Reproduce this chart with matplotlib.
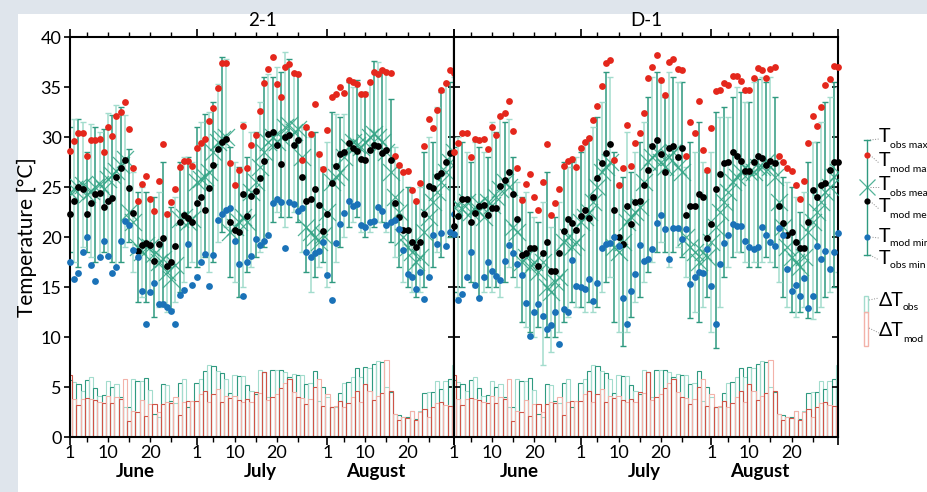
import matplotlib
matplotlib.use('Agg')
import matplotlib.pyplot as plt
import matplotlib.transforms as mtransforms
from matplotlib.lines import Line2D
from matplotlib.patches import Rectangle
import numpy as np

plt.rcParams['font.family'] = ['Lato', 'DejaVu Sans']

# ---------------- data (1 June .. 31 August) ----------------
# panel "2-1"
obs_max_1 = [31.0, 31.8, 31.8, 31.5, 28.5, 31.3, 31.0, 30.5, 30.8, 32.4, 32.2, 33.2, 33.0, 32.2, 28.8,
             26.5, 24.5, 25.0, 24.5, 23.8, 24.0, 24.5, 27.5, 22.5, 23.0, 24.0, 27.5, 28.0, 28.0, 27.5,
             31.0, 31.5, 32.3, 32.5, 33.5, 35.3, 38.0, 37.8, 29.0, 27.5, 27.0, 31.5, 28.0, 30.5, 30.5,
             33.5, 36.0, 36.3, 36.0, 37.0, 36.5, 38.5, 37.8, 36.5, 36.3, 31.0, 30.8, 30.0, 30.5, 28.5, 27.0,
             29.5, 32.5, 32.3, 32.0, 32.3, 35.5, 35.0, 35.7, 34.3, 34.5, 35.5, 37.6, 37.5, 36.8, 36.5,
             33.8, 29.0, 27.0, 26.5, 25.0, 24.5, 23.5, 25.0, 28.5, 30.0, 29.5, 33.0, 34.5, 35.3, 35.5, 36.0]
obs_mean_1 = [24.5, 24.8, 25.0, 25.2, 24.3, 24.6, 25.0, 25.3, 24.8, 25.8, 26.2, 26.6, 27.2, 27.8, 22.5,
              21.5, 19.0, 18.5, 19.2, 19.0, 18.3, 17.5, 17.8, 16.5, 15.8, 17.2, 21.8, 22.0, 21.5, 21.8,
              25.5, 25.8, 26.0, 26.5, 28.5, 29.5, 29.8, 30.0, 20.5, 21.0, 21.5, 22.0, 21.5, 24.5, 25.5,
              27.0, 28.5, 29.5, 30.0, 29.5, 30.0, 31.0, 31.2, 30.5, 30.8, 28.0, 21.0, 20.5, 20.0, 19.5, 20.2,
              22.5, 25.5, 26.0, 26.5, 28.0, 29.0, 29.5, 29.2, 29.0, 29.5, 30.0, 30.3, 30.0, 29.5, 28.5,
              26.5, 24.0, 22.5, 20.0, 19.0, 18.5, 17.5, 18.0, 20.5, 22.0, 23.5, 24.5, 25.5, 26.5, 27.5, 28.5]
obs_min_1 = [18.5, 17.5, 17.0, 19.0, 18.5, 18.0, 17.5, 18.0, 18.5, 18.0, 17.5, 17.0, 17.5, 19.0, 19.5,
             16.5, 13.5, 14.0, 13.5, 14.5, 12.0, 13.0, 13.5, 12.5, 12.8, 13.5, 14.5, 15.5, 17.0, 17.5,
             17.0, 17.5, 18.0, 16.5, 17.5, 19.5, 20.5, 21.0, 16.0, 15.5, 14.0, 15.0, 16.5, 17.0, 18.0,
             18.5, 19.0, 20.0, 21.5, 22.5, 22.0, 21.0, 22.0, 22.5, 21.5, 18.5, 16.5, 14.5, 16.0, 17.0, 17.5,
             15.0, 15.5, 17.5, 19.0, 20.0, 21.0, 21.5, 22.0, 20.5, 20.0, 20.5, 21.0, 21.5, 21.5, 20.5,
             19.5, 18.0, 17.0, 15.5, 15.0, 14.5, 14.0, 14.5, 15.0, 16.0, 17.0, 18.5, 18.0, 19.0, 20.0, 20.5]
mod_max_1 = [28.6, 29.6, 30.4, 30.4, 28.1, 29.7, 29.7, 29.8, 28.5, 31.0, 30.1, 32.1, 32.5, 33.5, 30.8,
             26.9, 23.6, 25.3, 26.1, 23.8, 22.6, 25.6, 29.3, 22.3, 23.5, 24.8, 27.0, 27.6, 27.6, 27.1,
             28.9, 29.4, 29.8, 31.6, 32.9, 34.9, 37.4, 37.4, 27.4, 25.2, 26.7, 31.1, 26.9, 29.2, 30.2,
             32.6, 35.4, 36.8, 38.0, 35.3, 34.0, 37.0, 37.3, 36.4, 36.3, 27.7, 31.0, 30.3, 33.3, 28.3, 26.8,
             30.7, 34.0, 34.3, 35.0, 34.4, 35.7, 35.5, 35.3, 34.3, 34.3, 35.5, 36.5, 36.3, 36.7, 36.5,
             36.4, 28.1, 27.2, 26.5, 26.6, 24.7, 23.6, 25.4, 29.1, 31.8, 30.9, 32.7, 34.7, 35.4, 36.7, 36.4]
mod_mean_1 = [22.3, 23.6, 25.0, 24.8, 22.3, 23.4, 24.3, 24.4, 23.0, 23.6, 23.9, 26.0, 26.9, 27.7, 24.9,
              22.4, 18.6, 19.2, 19.4, 19.2, 17.6, 19.3, 19.9, 17.1, 17.5, 19.1, 21.5, 22.2, 21.9, 21.5,
              23.4, 24.0, 22.7, 24.9, 27.2, 28.8, 29.5, 29.8, 21.5, 20.7, 20.5, 24.3, 22.1, 24.1, 24.6,
              25.9, 27.6, 30.3, 30.5, 29.2, 27.3, 30.0, 30.2, 29.2, 29.7, 26.0, 23.6, 23.8, 24.8, 23.2, 20.6,
              22.3, 25.4, 27.1, 28.3, 28.5, 29.4, 28.9, 28.6, 27.8, 27.7, 28.7, 29.2, 29.1, 28.4, 28.7,
              27.7, 23.4, 22.0, 20.7, 20.7, 19.5, 19.0, 19.5, 22.3, 25.1, 24.9, 26.1, 26.4, 27.5, 28.4, 28.4]
mod_min_1 = [17.5, 15.8, 16.4, 18.5, 20.0, 17.2, 15.6, 18.0, 19.6, 18.1, 16.4, 17.0, 19.6, 21.6, 21.2,
             18.7, 18.0, 14.6, 11.3, 14.5, 15.4, 13.3, 13.3, 13.0, 12.6, 11.3, 14.2, 14.7, 19.3, 15.2,
             16.0, 17.5, 18.3, 15.1, 18.2, 21.7, 22.3, 22.7, 22.9, 19.6, 17.3, 14.1, 17.5, 18.1, 19.8,
             19.2, 19.6, 20.2, 23.4, 23.8, 23.5, 18.9, 23.5, 23.3, 22.6, 22.9, 18.5, 18.0, 18.4, 18.6, 19.5,
             16.2, 13.7, 19.4, 21.3, 22.4, 23.6, 23.1, 23.3, 21.2, 21.0, 21.5, 21.6, 23.0, 22.6, 21.2,
             21.5, 21.7, 20.8, 18.7, 16.3, 16.0, 14.8, 16.5, 13.8, 16.0, 20.2, 19.3, 20.4, 19.1, 20.5, 22.3]

# panel "D-1"
obs_max_2 = [29.0, 30.0, 29.5, 28.5, 27.5, 29.5, 29.0, 28.5, 28.0, 31.5, 30.5, 32.0, 31.5, 31.8, 28.0,
             25.5, 24.0, 24.5, 22.5, 22.0, 21.5, 23.5, 26.5, 21.0, 22.0, 23.5, 27.5, 27.0, 27.5, 28.0,
             28.5, 29.5, 30.0, 31.0, 32.0, 33.5, 36.5, 36.0, 28.5, 25.0, 26.0, 30.5, 26.5, 28.5, 29.5,
             31.5, 34.0, 36.0, 36.5, 35.5, 34.0, 36.5, 36.0, 35.5, 35.5, 27.0, 29.5, 28.5, 31.5, 27.5, 26.5,
             28.5, 32.5, 32.0, 33.0, 32.0, 34.0, 35.0, 34.5, 33.5, 33.5, 35.5, 35.8, 36.0, 35.5, 36.0,
             34.0, 27.5, 26.0, 25.5, 25.0, 24.0, 22.5, 24.5, 27.5, 29.5, 29.5, 31.5, 33.5, 34.0, 35.5, 35.0]
obs_mean_2 = [23.0, 23.2, 22.8, 23.5, 22.5, 23.0, 23.3, 22.0, 23.5, 23.2, 24.0, 24.8, 25.5, 25.0, 21.0,
              20.5, 17.5, 18.0, 17.0, 17.5, 16.5, 17.5, 15.0, 14.5, 15.5, 16.0, 19.5, 20.0, 19.0, 19.5,
              21.5, 22.0, 22.5, 23.5, 25.0, 26.5, 27.0, 27.5, 19.0, 18.5, 19.5, 21.5, 22.0, 22.5, 23.0,
              25.5, 27.5, 28.0, 28.5, 27.5, 27.0, 28.0, 28.5, 27.0, 26.5, 20.0, 19.0, 18.5, 17.5, 18.5, 18.0,
              19.5, 21.0, 22.5, 23.5, 24.5, 25.5, 26.0, 26.5, 27.0, 26.5, 26.5, 27.0, 27.0, 27.5, 27.0,
              26.0, 23.5, 21.0, 19.0, 18.0, 17.5, 17.0, 18.0, 20.5, 21.5, 22.5, 23.5, 24.5, 25.0, 26.0, 26.5]
obs_min_2 = [14.5, 14.0, 15.0, 16.0, 15.5, 15.0, 14.0, 14.5, 15.0, 14.5, 15.0, 14.0, 15.5, 17.0, 16.0,
             15.0, 11.5, 11.0, 10.5, 10.0, 11.0, 7.2, 10.0, 8.5, 10.0, 10.5, 11.5, 12.0, 13.5, 13.0,
             13.0, 12.5, 13.5, 12.5, 13.0, 14.5, 15.5, 16.0, 11.5, 10.5, 9.1, 10.5, 12.0, 13.5, 14.0,
             15.5, 16.5, 17.5, 18.5, 19.5, 18.5, 17.0, 18.5, 19.0, 18.0, 16.0, 11.9, 12.5, 11.5, 13.0, 14.0,
             10.5, 8.9, 13.0, 16.0, 17.0, 18.0, 18.5, 18.5, 17.5, 17.0, 17.5, 17.0, 17.5, 18.0, 17.5,
             17.0, 15.5, 14.0, 13.0, 12.5, 12.0, 12.5, 13.0, 11.9, 11.8, 12.5, 13.0, 14.0, 14.5, 15.0, 16.5]
mod_max_2 = [28.5, 29.4, 30.4, 30.4, 28.0, 29.8, 29.7, 29.8, 28.8, 31.0, 30.2, 32.1, 32.4, 33.6, 30.6,
             26.9, 23.7, 25.3, 26.3, 24.0, 22.7, 25.5, 29.3, 22.2, 23.4, 24.8, 27.1, 27.6, 27.8, 27.0,
             28.9, 29.5, 29.9, 31.7, 33.1, 35.1, 37.4, 37.7, 27.7, 25.2, 26.9, 31.2, 27.1, 29.4, 30.4,
             32.4, 35.9, 37.0, 38.2, 35.7, 34.2, 37.5, 37.8, 36.8, 36.7, 28.1, 31.5, 30.4, 33.6, 28.7, 26.7,
             30.9, 34.6, 34.7, 35.4, 35.2, 36.1, 36.1, 35.6, 34.7, 34.7, 35.9, 36.9, 36.7, 35.9, 36.8,
             37.0, 28.1, 27.5, 26.9, 26.6, 25.2, 23.8, 25.6, 29.4, 32.1, 31.1, 33.0, 35.2, 35.8, 37.1, 37.0]
mod_mean_2 = [21.1, 22.1, 23.8, 23.8, 21.5, 22.4, 23.1, 23.2, 22.2, 22.9, 22.9, 25.1, 25.7, 26.5, 24.3,
              21.8, 18.2, 18.4, 18.9, 18.9, 17.1, 18.4, 19.5, 16.6, 16.6, 18.4, 20.6, 21.8, 21.4, 20.7,
              22.1, 22.7, 21.9, 24.0, 25.9, 27.4, 28.4, 29.3, 22.7, 20.0, 19.3, 23.1, 21.3, 23.5, 23.6,
              25.2, 26.7, 29.1, 29.7, 28.3, 26.5, 28.9, 29.1, 28.0, 28.9, 22.2, 23.1, 23.1, 24.3, 24.0, 19.9,
              21.3, 24.8, 26.3, 27.4, 27.5, 28.5, 28.1, 27.6, 26.6, 26.6, 27.5, 28.1, 27.9, 27.2, 27.6,
              27.4, 23.1, 21.4, 20.2, 20.5, 19.5, 18.9, 18.9, 21.5, 24.7, 24.0, 25.2, 25.4, 26.7, 27.5, 27.5]
mod_min_2 = [20.3, 13.7, 14.3, 16.0, 18.5, 15.2, 13.9, 16.0, 17.5, 16.6, 16.1, 15.7, 17.6, 19.2, 18.4,
             17.3, 16.2, 13.4, 10.1, 12.5, 13.3, 12.1, 10.8, 11.2, 12.5, 9.3, 12.8, 12.5, 17.7, 15.1,
             15.0, 14.8, 15.8, 13.6, 15.4, 18.9, 19.3, 19.4, 20.0, 19.1, 13.9, 11.3, 14.6, 16.3, 19.2,
             17.6, 17.8, 18.8, 21.4, 22.2, 20.8, 17.8, 20.9, 20.9, 19.8, 20.8, 15.3, 16.0, 16.5, 16.4, 18.8,
             15.1, 11.3, 17.3, 19.4, 20.2, 21.3, 21.1, 21.1, 19.6, 19.0, 18.8, 19.0, 21.0, 20.2, 19.5,
             19.1, 20.9, 20.2, 16.8, 14.6, 15.2, 14.1, 15.9, 12.9, 14.1, 19.1, 17.8, 18.6, 16.8, 18.5, 20.4]

# daily range bars (same in both panels)
dT_obs = [5.7, 5.5, 5.3, 4.6, 5.7, 6.0, 4.9, 4.1, 4.2, 5.6, 5.0, 5.3, 4.0, 3.0, 3.0,
          5.8, 5.6, 5.6, 5.9, 4.7, 2.3, 2.0, 5.3, 5.2, 3.6, 3.4, 5.4, 5.8, 3.0, 3.6,
          5.4, 5.8, 6.6, 7.2, 7.1, 6.6, 6.4, 5.8, 4.4, 6.2, 6.1, 6.1, 5.2, 4.6, 4.3,
          6.7, 6.5, 4.0, 6.7, 6.7, 6.7, 6.5, 6.0, 6.3, 6.2, 6.2, 5.3, 5.4, 6.6, 3.6, 5.0,
          4.0, 3.0, 3.0, 4.4, 5.4, 5.5, 6.0, 6.9, 6.0, 7.0, 6.9, 7.3, 7.6, 7.5, 5.0,
          4.5, 2.3, 2.2, 2.0, 2.0, 2.6, 1.8, 2.6, 4.4, 4.5, 4.5, 5.6, 4.8, 5.6, 5.8, 7.2]
dT_mod = [6.2, 3.8, 3.2, 3.8, 3.9, 3.8, 3.7, 3.5, 3.4, 4.1, 3.4, 4.0, 3.8, 5.8, 1.6,
          2.6, 2.5, 3.7, 2.1, 3.3, 3.3, 2.5, 3.3, 3.5, 3.4, 4.0, 2.2, 3.5, 3.6, 3.6,
          3.6, 4.3, 4.6, 3.5, 4.3, 4.8, 3.5, 4.1, 3.9, 4.1, 3.7, 3.5, 3.8, 3.5, 4.5,
          4.4, 6.5, 3.7, 4.0, 4.3, 4.9, 5.4, 5.8, 4.5, 4.0, 3.9, 3.3, 3.8, 5.0, 5.8, 3.1,
          4.3, 3.0, 3.1, 3.6, 3.0, 3.4, 4.0, 4.6, 3.5, 5.3, 4.6, 3.7, 4.1, 4.4, 7.7,
          4.6, 2.3, 1.7, 2.0, 1.9, 2.6, 1.7, 2.5, 2.8, 2.0, 3.0, 3.4, 3.5, 3.2, 3.1, 3.0]

panel_titles = ['2-1', 'D-1']
month_names = ['June', 'July', 'August']
month_pos = [15.5, 45, 72.5]

# ---------------- styling ----------------
TEAL_D = '#2f9a80'
TEAL_L = '#a3dccd'
XCOL = '#34a586'
RED_D = '#cf5447'
RED_L = '#f3b2a9'
RED = '#e4271c'
BLUE = '#1a72b8'

W, H = 928, 492
fx = lambda x: x / W
fy = lambda y: 1 - y / H

fig = plt.figure(figsize=(W / 100, H / 100), dpi=100, facecolor='#dfe5ec')
fig.add_artist(Rectangle((fx(18), 0), 1, fy(14), transform=fig.transFigure,
                         facecolor='white', edgecolor='none', zorder=-5))

days = np.arange(92)
obs_cols = [TEAL_D if i % 2 == 0 else TEAL_L for i in days]
mod_cols = [RED_D if i % 2 == 0 else RED_L for i in days]

minor_x = [4, 9, 14, 19, 24, 34, 39, 44, 49, 54, 65, 70, 75, 80, 85]
minor_lab = ['', '10', '', '20', '', '', '10', '', '20', '', '', '10', '', '20', '']


def draw_panel(ax, tmax, tmean, tmin, mmax, mmean, mmin, first):
    tmax, tmean, tmin = np.array(tmax), np.array(tmean), np.array(tmin)
    ax.bar(days, dT_obs, width=1.0, fill=False, edgecolor=obs_cols, linewidth=0.8, zorder=1)
    ax.bar(days, dT_mod, width=1.0, fill=False, edgecolor=mod_cols, linewidth=0.8, zorder=1.5)
    for k, col in ((0, TEAL_D), (1, TEAL_L)):
        s = slice(k, None, 2)
        ax.errorbar(days[s], tmean[s], yerr=[tmean[s] - tmin[s], tmax[s] - tmean[s]],
                    fmt='none', ecolor=col, elinewidth=1.1, capsize=2, capthick=1.0, zorder=2)
    ax.scatter(days, tmean, marker='x', s=150, color=XCOL, linewidths=0.9, alpha=0.85, zorder=3)
    ax.scatter(days, mmax, s=24, color=RED, linewidths=0, zorder=4, clip_on=False)
    ax.scatter(days, mmean, s=24, color='black', linewidths=0, zorder=4, clip_on=False)
    ax.scatter(days, mmin, s=24, color=BLUE, linewidths=0, zorder=4, clip_on=False)

    ax.set_xlim(0, 91)
    ax.set_ylim(0, 40)
    ax.set_xticks([0, 30, 61, 91])
    ax.set_xticklabels(['1', '1', '1', ''])
    ax.set_xticks(minor_x, minor=True)
    ax.set_xticklabels(minor_lab, minor=True)
    ax.tick_params(axis='x', which='major', direction='out', top=True, length=6, width=1.2,
                   labelsize=13, pad=0)
    ax.tick_params(axis='x', which='minor', direction='out', top=True, length=3.5, width=1.0,
                   labelsize=13, pad=2.5)
    ax.set_yticks(range(0, 41, 5))
    if first:
        ax.tick_params(axis='y', direction='out', length=4.5, width=1.2, labelsize=13, pad=1.5)
        sec = ax.secondary_yaxis('right')
        sec.set_yticks(range(0, 41, 5))
        sec.tick_params(direction='in', length=4.5, width=1.2, labelright=False)
        sec.spines['right'].set_linewidth(1.5)
    else:
        ax.tick_params(axis='y', direction='in', left=True, right=True, length=4.5, width=1.2,
                       labelleft=False)
    for sp in ax.spines.values():
        sp.set_linewidth(1.5)

    trans = mtransforms.blended_transform_factory(ax.transData, ax.transAxes)
    for name, pos in zip(month_names, month_pos):
        ax.text(pos, -0.087, name, transform=trans, ha='center', va='center',
                fontsize=13.5, fontweight='bold')


ax1 = fig.add_axes([fx(70), 1 - 437 / H, 384 / W, 400 / H])
ax2 = fig.add_axes([fx(454), 1 - 437 / H, 384 / W, 400 / H])
draw_panel(ax1, obs_max_1, obs_mean_1, obs_min_1, mod_max_1, mod_mean_1, mod_min_1, True)
draw_panel(ax2, obs_max_2, obs_mean_2, obs_min_2, mod_max_2, mod_mean_2, mod_min_2, False)

fig.text(fx(262), fy(20), panel_titles[0], ha='center', va='center', fontsize=13.5)
fig.text(fx(646), fy(20), panel_titles[1], ha='center', va='center', fontsize=13.5)
fig.text(fx(27), fy(237), 'Temperature [°C]', rotation=90, ha='center', va='center', fontsize=15)

# ---------------- hand-made legend on the right ----------------
gx = 867
fig.add_artist(Line2D([fx(gx), fx(gx)], [fy(140), fy(255)], color=TEAL_D, lw=1.0))
for yy in (140, 255):
    fig.add_artist(Line2D([fx(gx - 3), fx(gx + 3)], [fy(yy), fy(yy)], color=TEAL_D, lw=1.0))
fig.add_artist(Line2D([fx(gx)], [fy(155)], marker='o', ms=4.5, color=RED, mew=0, lw=0))
fig.add_artist(Line2D([fx(gx)], [fy(187)], marker='x', ms=12, color=XCOL, mew=0.9, lw=0, alpha=0.85))
fig.add_artist(Line2D([fx(gx)], [fy(201)], marker='o', ms=4.5, color='black', mew=0, lw=0))
fig.add_artist(Line2D([fx(gx)], [fy(237)], marker='o', ms=4.5, color=BLUE, mew=0, lw=0))

leg_items = [(140, 137, 'obs max'), (155, 161, 'mod max'), (187, 185, 'obs mean'),
             (201, 207, 'mod mean'), (237, 236, 'mod min'), (255, 258, 'obs min')]
for y0, yt, sub in leg_items:
    fig.add_artist(Line2D([fx(gx + 3), fx(879)], [fy(y0), fy(yt + 2)], color='#8a8a8a',
                          lw=0.7, ls=':'))
    fig.text(fx(879), fy(yt), 'T', ha='left', va='center', fontsize=14)
    fig.text(fx(890), fy(yt + 8), sub, ha='left', va='center', fontsize=7.5)

fig.add_artist(Rectangle((fx(864), fy(312)), 4 / W, 16 / H, transform=fig.transFigure,
                         fill=False, edgecolor=TEAL_L, lw=1.0))
fig.add_artist(Rectangle((fx(864), fy(346)), 4 / W, 34 / H, transform=fig.transFigure,
                         fill=False, edgecolor=RED_L, lw=1.0))
fig.add_artist(Line2D([fx(869), fx(879)], [fy(300), fy(298)], color='#8a8a8a', lw=0.7, ls=':'))
fig.add_artist(Line2D([fx(869), fx(879)], [fy(328), fy(333)], color='#8a8a8a', lw=0.7, ls=':'))
fig.text(fx(879), fy(300), 'ΔT', ha='left', va='center', fontsize=14)
fig.text(fx(903), fy(307), 'obs', ha='left', va='center', fontsize=7.5)
fig.text(fx(879), fy(331), 'ΔT', ha='left', va='center', fontsize=14)
fig.text(fx(903), fy(339), 'mod', ha='left', va='center', fontsize=7.5)

fig.savefig('out.png', dpi=100, facecolor=fig.get_facecolor())
